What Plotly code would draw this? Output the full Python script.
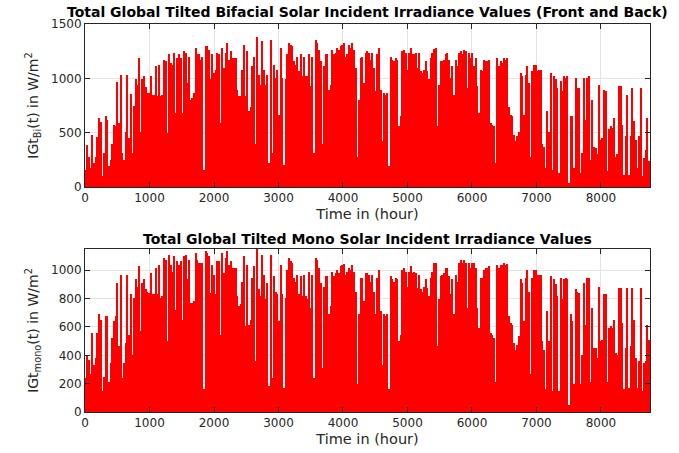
import numpy as np
import plotly.graph_objects as go
from plotly.subplots import make_subplots

# Daily peak irradiance values (W/m^2), over the year (0..8760 h)
bifacial_peaks = [
    160, 390, 280, 175, 480, 220, 280, 460, 635, 595,
    100, 310, 655, 620, 190, 250, 400, 575, 565, 970,
    590, 1035, 310, 250, 510, 1030, 450, 855, 310, 750,
    995, 940, 1190, 510, 990, 1020, 920, 865, 865, 1020,
    850, 850, 1110, 835, 1125, 840, 850, 1170, 1155, 500,
    1225, 1140, 1125, 1235, 680, 1190, 1220, 1190, 680, 1250,
    1235, 960, 1200, 805, 820, 865, 1280, 1220, 1220, 1170,
    1200, 160, 1295, 1295, 1265, 990, 1220, 1050, 1080, 1235,
    1220, 590, 1280, 1095, 1235, 1325, 1170, 1250, 1190, 1190,
    1190, 895, 835, 835, 1080, 1310, 835, 1250, 695, 740,
    1110, 1200, 400, 1385, 1035, 940, 1340, 1080, 940, 1035,
    220, 1355, 310, 1125, 1000, 1080, 665, 1280, 1000, 205,
    990, 1220, 1325, 1310, 1295, 1155, 1125, 1200, 1065, 1220,
    1020, 1200, 1020, 1020, 1220, 925, 1200, 310, 1355, 1325,
    1265, 1155, 400, 1110, 1220, 1220, 895, 940, 1265, 1220,
    1235, 1280, 1265,
    1295, 1310, 1325, 1200, 1220, 1310, 1280, 1325, 1265, 1095,
    280, 805, 1190, 1200, 960, 1235, 1250, 1235, 1170, 1235,
    1095, 880, 1220, 1280, 895, 420, 865, 850, 865, 190,
    1200, 1170, 1155, 1190, 1170, 560, 650, 1250, 1265, 1235,
    1080, 1235, 1280, 1220, 1220, 1235, 1095, 1235, 1065, 1050,
    1080, 1155, 1065, 990, 1190, 1235, 1270, 1280, 560, 940,
    1155, 1155, 1170, 1220, 1235, 1170, 1000, 1110, 850, 1170,
    1110, 1235, 1250, 1220, 1265, 1250, 910, 1235, 1190, 1235,
    1110, 1190, 925, 680, 1080, 1065, 1170, 1155, 1155, 1170,
    590, 575, 560, 220, 1190, 1110, 1155, 1140, 1190, 1170,
    1190, 740, 665, 650, 480, 420, 465, 510, 1050, 1020,
    665, 1035, 1110, 960, 280, 1065, 1125, 1125, 1065, 1080,
    1080, 400, 370, 175, 695, 510, 1050, 160, 1020, 990,
    910, 130, 975, 880, 1020, 1000, 1020, 40, 650, 650,
    175, 1000, 910, 910, 130, 310, 1000, 620, 1000, 1020,
    250, 805, 370, 360, 300, 940, 435, 450, 895, 880,
    145, 530, 560, 545, 635, 280, 300, 925, 925, 575,
    115, 465, 850, 115, 465, 910, 605, 435, 175, 465,
    910, 100, 265, 345, 635, 235,
]

mono_peaks = [
    240, 395, 370, 265, 560, 335, 380, 560, 690, 650,
    145, 250, 675, 675, 215, 345, 520, 640, 675, 910,
    465, 970, 240, 345, 485, 970, 545, 830, 405, 805,
    935, 885, 1030, 570, 910, 935, 865, 850, 840, 980,
    830, 830, 1015, 830, 1040, 805, 815, 1085, 1075, 500,
    1110, 1040, 990, 1100, 720, 1065, 1040, 1065, 650, 1100,
    1110, 935, 1075, 770, 770, 780, 1120, 1075, 1050, 1050,
    1050, 160, 1135, 1120, 1100, 840, 1040, 970, 830, 1065,
    1065, 545, 1120, 980, 1085, 1135, 1040, 1065, 1015, 1015,
    1015, 815, 745, 760, 920, 1100, 605, 1040, 615, 650,
    945, 1030, 360, 1150, 865, 815, 1110, 970, 795, 910,
    180, 1110, 240, 960, 850, 830, 640, 1040, 830, 170,
    805, 1005, 1085, 1065, 1050, 945, 920, 970, 830, 960,
    815, 970, 815, 795, 990, 735, 970, 240, 1085, 1075,
    1015, 910, 310, 885, 960, 960, 690, 745, 990, 960,
    980, 1005, 980,
    1030, 1040, 1045, 970, 990, 1015, 1005, 1035, 990, 850,
    195, 690, 945, 945, 780, 980, 980, 970, 920, 970,
    850, 690, 945, 1005, 710, 335, 690, 675, 690, 160,
    960, 935, 920, 945, 935, 500, 545, 1005, 1015, 990,
    885, 990, 1030, 980, 990, 980, 875, 970, 865, 850,
    885, 935, 875, 815, 945, 990, 1050, 1050, 465, 795,
    960, 970, 980, 1015, 1015, 960, 830, 935, 690, 970,
    920, 1050, 1075, 1050, 1075, 1050, 735, 1050, 1015, 1050,
    1050, 1015, 735, 595, 945, 945, 1005, 1015, 1015, 1030,
    560, 545, 520, 215, 1040, 1015, 1040, 1040, 1050, 1040,
    1045, 675, 630, 615, 485, 440, 475, 535, 935, 910,
    640, 945, 1005, 850, 265, 945, 1005, 1005, 970, 970,
    970, 500, 440, 160, 710, 500, 960, 145, 935, 900,
    815, 145, 945, 795, 935, 945, 935, 50, 690, 640,
    195, 865, 850, 840, 195, 405, 910, 615, 945, 945,
    215, 735, 450, 450, 380, 885, 500, 510, 830, 830,
    215, 595, 605, 595, 650, 415, 405, 875, 875, 630,
    160, 450, 875, 170, 465, 875, 650, 380, 170, 360,
    875, 145, 345, 360, 615, 510,
]

x_ticks = [0, 1000, 2000, 3000, 4000, 5000, 6000, 7000, 8000]
bifacial_yticks = [0, 500, 1000, 1500]
mono_yticks = [0, 200, 400, 600, 800, 1000]
hours_in_year = 8760

titles = [
    "Total Global Tilted Bifacial Solar Incident Irradiance Values (Front and Back)",
    "Total Global Tilted Mono Solar Incident Irradiance Values",
]

fig = make_subplots(rows=2, cols=1, vertical_spacing=0.16)

def add_series(vals, row):
    n = len(vals)
    step = hours_in_year / n
    xs = (np.arange(n) + 0.5) * step
    fig.add_trace(go.Bar(x=xs, y=vals, width=step,
                         marker=dict(color="#FF0000", line=dict(width=0)),
                         showlegend=False, hoverinfo="skip"), row=row, col=1)

add_series(bifacial_peaks, 1)
add_series(mono_peaks, 2)

font_family = "DejaVu Sans, Liberation Sans, Arial, sans-serif"
axis_common = dict(showline=True, mirror="ticks", linecolor="#262626", linewidth=1,
                   ticks="inside", ticklen=5, tickcolor="#262626",
                   showgrid=True, gridcolor="#e3e3e3", gridwidth=1,
                   zeroline=False, automargin=False,
                   tickfont=dict(family=font_family, size=12, color="#262626"))

for r in (1, 2):
    fig.update_xaxes(range=[0, hours_in_year], tickvals=x_ticks,
                     title=dict(text="Time in (hour)", standoff=4,
                                font=dict(family=font_family, size=14.5, color="#262626")),
                     row=r, col=1, **axis_common)

fig.update_yaxes(range=[0, 1500], tickvals=bifacial_yticks,
                 title=dict(text="IGt<sub>Bi</sub>(t) in W/m<sup>2</sup>", standoff=9,
                            font=dict(family=font_family, size=14, color="#262626")),
                 row=1, col=1, **axis_common)
fig.update_yaxes(range=[0, 1150], tickvals=mono_yticks,
                 title=dict(text="IGt<sub>mono</sub>(t) in W/m<sup>2</sup>", standoff=9,
                            font=dict(family=font_family, size=14, color="#262626")),
                 row=2, col=1, **axis_common)

fig.update_layout(
    width=679, height=453,
    margin=dict(l=85, r=29, t=24, b=41),
    plot_bgcolor="white", paper_bgcolor="white",
    bargap=0,
    xaxis=dict(domain=[0, 1]), yaxis=dict(domain=[0.5799, 1.0]),
    xaxis2=dict(domain=[0, 1]), yaxis2=dict(domain=[0.0, 0.4201]),
)

fig.add_annotation(text="<b>" + titles[0] + "</b>", xref="paper", yref="paper",
                   x=0.5, y=1.0, xanchor="center", yanchor="bottom", yshift=2,
                   showarrow=False, font=dict(family=font_family, size=14, color="black"))
fig.add_annotation(text="<b>" + titles[1] + "</b>", xref="paper", yref="paper",
                   x=0.5, y=0.4201, xanchor="center", yanchor="bottom", yshift=0,
                   showarrow=False, font=dict(family=font_family, size=14, color="black"))

fig.write_html("out.html", config={"displayModeBar": False},
               post_script="document.body.style.margin='0px';")
